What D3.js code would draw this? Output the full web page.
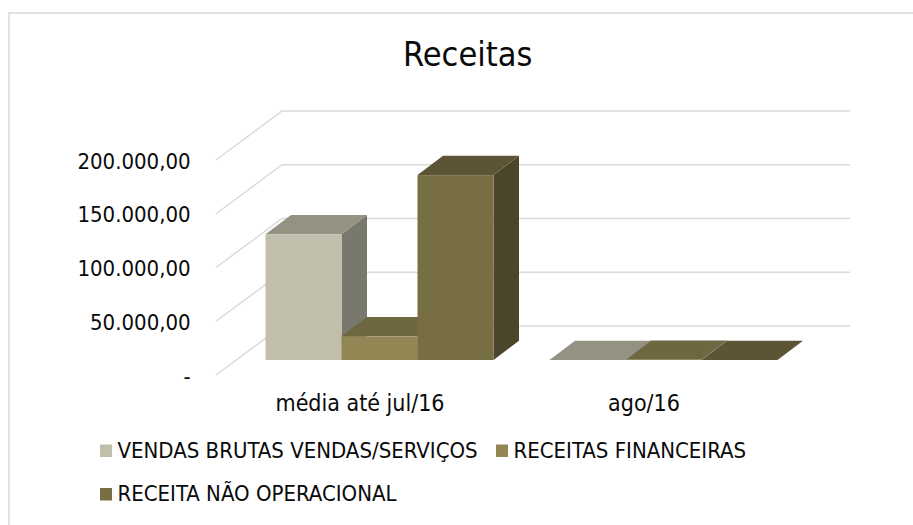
<!DOCTYPE html>
<html>
<head>
<meta charset="utf-8">
<script src="https://cdn.jsdelivr.net/npm/d3@7/dist/d3.min.js"></script>
<style>
html, body { margin: 0; padding: 0; background: #fff; overflow: hidden; }
text { font-family: "DejaVu Sans Condensed", "DejaVu Sans", sans-serif; fill: #0a0a0a; }
</style>
</head>
<body>
<div id="chart"></div>
<script>
var categories = ["média até jul/16", "ago/16"]
var seriesNames = ["VENDAS BRUTAS VENDAS/SERVIÇOS", "RECEITAS FINANCEIRAS", "RECEITA NÃO OPERACIONAL"]
var vendas = [117000, 0]
var financeiras = [22000, 300]
var naoOperacional = [172000, 0]
var tickValues = [0, 50000, 100000, 150000, 200000]
var tickLabels = ["-", "50.000,00", "100.000,00", "150.000,00", "200.000,00"]
var seriesValues = [vendas, financeiras, naoOperacional]

var colors = ["#c1bfab", "#918654", "#786e44"]
var width = 913, height = 525

var svg = d3.select("#chart").append("svg")
    .attr("width", width)
    .attr("height", height)
    .style("display", "block")

// chart frame, only left and top are inside the picture
svg.append("path")
    .attr("d", d3.line()([[9, height], [9, 13], [width, 13]]))
    .attr("fill", "none")
    .attr("stroke", "#d9d9d9")
    .attr("stroke-width", 1.5)

svg.append("text")
    .attr("x", 467.7).attr("y", 66)
    .attr("text-anchor", "middle")
    .style("font-size", "34px")
    .text("Receitas")

// front plane of the fake 3d box, the walls go back by (wallX, wallY)
var wallX = 66, wallY = -49
var y = d3.scaleLinear().domain([0, 200000]).range([375, 160])
var x0 = d3.scaleBand().domain(d3.range(categories.length)).range([216, 784])
var barDepth = 15 // how far the bar base is above the front plane
var barShift = 21.5
var x1 = d3.scaleBand().domain(d3.range(seriesNames.length)).range([0, 228])
var dx = 25.5, dy = -19.3

var grid = svg.append("g").attr("fill", "none").attr("stroke", "#d9d9d9").attr("stroke-width", 1.4)
tickValues.forEach(function(t) {
  grid.append("path").attr("d", d3.line()([
    [216, y(t)], [216 + wallX, y(t) + wallY], [850, y(t) + wallY]
  ]))
})

svg.selectAll(".tick-label")
  .data(tickValues)
  .enter().append("text")
    .attr("class", "tick-label")
    .attr("x", 190.7)
    .attr("y", function(d) { return y(d) + 8.5 })
    .attr("text-anchor", "end")
    .style("font-size", "22px")
    .text(function(d, i) { return tickLabels[i] })

var darker = function(c, k) { return d3.rgb(c).darker(k).formatHex() }
var bars = svg.append("g")

// drawn left to right so the next bar covers the side of the previous one
categories.forEach(function(cat, ci) {
  var groupLeft = x0(ci) + x0.bandwidth() / 2 + barShift - x1.range()[1] / 2
  seriesNames.forEach(function(name, si) {
    var v = seriesValues[si][ci]
    var left = groupLeft + x1(si), right = left + x1.bandwidth()
    var base = y(0) - barDepth, top = y(v) - barDepth
    var g = bars.append("g")
    // side
    g.append("polygon")
      .attr("points", [[right, top], [right + dx, top + dy], [right + dx, base + dy], [right, base]].join(" "))
      .attr("fill", darker(colors[si], 1.3))
    // top
    g.append("polygon")
      .attr("points", [[left, top], [left + dx, top + dy], [right + dx, top + dy], [right, top]].join(" "))
      .attr("fill", darker(colors[si], 0.75))
    // front
    g.append("rect")
      .attr("x", left).attr("y", top)
      .attr("width", right - left).attr("height", base - top)
      .attr("fill", colors[si])
  })
})

svg.selectAll(".cat-label")
  .data(categories)
  .enter().append("text")
    .attr("class", "cat-label")
    .attr("x", function(d, i) { return x0(i) + x0.bandwidth() / 2 + 2 })
    .attr("y", 411)
    .attr("text-anchor", "middle")
    .style("font-size", "23px")
    .text(function(d) { return d })

var legendPos = [[100, 457.5], [496, 457.5], [100, 501]]
var legend = svg.selectAll(".legend")
  .data(seriesNames)
  .enter().append("g")
    .attr("class", "legend")
    .attr("transform", function(d, i) { return "translate(" + legendPos[i] + ")" })
legend.append("rect")
    .attr("x", 0).attr("y", -13)
    .attr("width", 12).attr("height", 12.5)
    .attr("fill", function(d, i) { return colors[i] })
legend.append("text")
    .attr("x", 17.5).attr("y", 0)
    .style("font-size", "22px")
    .text(function(d) { return d })
</script>
</body>
</html>
